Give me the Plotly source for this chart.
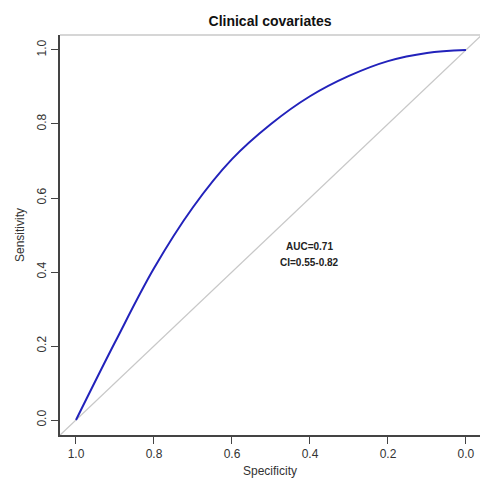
import plotly.graph_objects as go

# ROC curve
specificity = [1.0, 0.9, 0.8, 0.7, 0.6, 0.5, 0.4, 0.3, 0.2, 0.1, 0.0]
sensitivity = [0.0, 0.21, 0.41, 0.575, 0.705, 0.80, 0.875, 0.93, 0.97, 0.992, 1.0]
diag_x = [1.2, -0.2]
diag_y = [-0.2, 1.2]
tick_vals = [0.0, 0.2, 0.4, 0.6, 0.8, 1.0]
tick_text = ["0.0", "0.2", "0.4", "0.6", "0.8", "1.0"]
auc_label = "AUC=0.71"
ci_label = "CI=0.55-0.82"

fig = go.Figure()
fig.add_trace(go.Scatter(x=diag_x, y=diag_y, mode="lines",
                         line=dict(color="#c8c8c8", width=1.2), hoverinfo="skip"))
fig.add_trace(go.Scatter(x=specificity, y=sensitivity, mode="lines",
                         line=dict(color="#2222bb", width=2, shape="spline", smoothing=1.0)))

fig.add_annotation(x=0.4, y=0.47, text="<b>" + auc_label + "</b>", showarrow=False,
                   font=dict(family="Liberation Sans Narrow, Arial", size=10, color="#222"))
fig.add_annotation(x=0.4, y=0.427, text="<b>" + ci_label + "</b>", showarrow=False,
                   font=dict(family="Liberation Sans Narrow, Arial", size=10, color="#222"))

# top border line (lighter)
fig.add_shape(type="line", xref="paper", yref="paper", x0=0, x1=1, y0=1, y1=1,
              line=dict(color="#c8c8c8", width=1.5))

fig.update_layout(
    width=480, height=485,
    margin=dict(l=60, r=0, t=35, b=50),
    paper_bgcolor="white", plot_bgcolor="white",
    showlegend=False,
    font=dict(family="Liberation Sans, Arial", color="#333"),
    title=dict(text="<b>Clinical covariates</b>", x=0.5625, xanchor="center",
               y=1 - 21 / 485, yanchor="middle",
               font=dict(size=14, color="#111")),
    xaxis=dict(range=[1.041, -0.036], tickvals=tick_vals, ticktext=tick_text,
               showgrid=False, zeroline=False, showline=True, linecolor="#444", linewidth=1.5,
               ticks="outside", ticklen=7, tickcolor="#444", tickwidth=1, automargin=False,
               tickfont=dict(size=12, color="#333"),
               title=dict(text="Specificity", font=dict(size=12, color="#333"), standoff=6)),
    yaxis=dict(range=[-0.0405, 1.0405], tickvals=tick_vals, ticktext=tick_text,
               showgrid=False, zeroline=False, showline=True, linecolor="#444", linewidth=1.5,
               ticks="outside", ticklen=7, tickcolor="#444", tickwidth=1, tickangle=-90,
               automargin=False,
               tickfont=dict(size=12, color="#333"),
               title=dict(text="Sensitivity", font=dict(size=12, color="#333"), standoff=8)),
)

fig.write_html("out.html", config={"displayModeBar": False},
               post_script="document.body.style.margin='0';document.body.style.overflow='hidden';")
